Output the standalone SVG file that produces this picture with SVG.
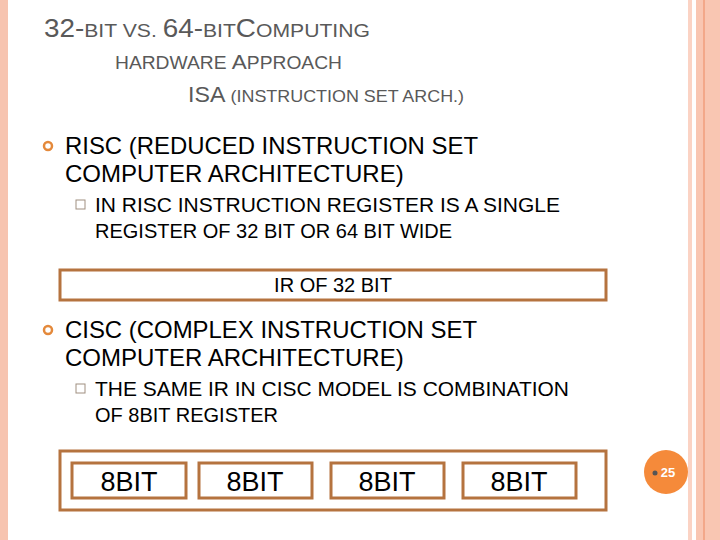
<svg xmlns="http://www.w3.org/2000/svg" width="720" height="540" viewBox="0 0 720 540">
<style>
.t{font-family:"Liberation Sans",Arial,sans-serif;fill:#595959}
.b{font-family:"Liberation Sans",Arial,sans-serif;fill:#000}
.box{fill:#fff;stroke:#b5733f;stroke-width:3}
</style>
<rect width="720" height="540" fill="#fff"/>
<rect x="0" y="0" width="8" height="540" fill="#f7c4b0"/>
<rect x="688" y="0" width="4" height="540" fill="#fbd3c4"/>
<rect x="696" y="0" width="24" height="540" fill="#f9c6b2"/>
<rect x="703" y="0" width="2" height="540" fill="#f3a88a"/>
<g id="title">
<text class="t" x="44" y="37" font-size="25" textLength="326" lengthAdjust="spacingAndGlyphs">32-<tspan font-size="19">BIT VS. </tspan>64-<tspan font-size="19">BIT</tspan>C<tspan font-size="19">OMPUTING</tspan></text>
<text class="t" x="115" y="69" font-size="18" textLength="227" lengthAdjust="spacingAndGlyphs">HARDWARE <tspan font-size="21">A</tspan>PPROACH</text>
<text class="t" x="188" y="102" font-size="22" textLength="276" lengthAdjust="spacingAndGlyphs">ISA <tspan font-size="17">(INSTRUCTION SET ARCH.)</tspan></text>
</g>
<g id="risc">
<circle cx="48" cy="146" r="4" fill="none" stroke="#e4893b" stroke-width="2.5"/>
<text class="b" x="65" y="154" font-size="24" textLength="413" lengthAdjust="spacingAndGlyphs">RISC (REDUCED INSTRUCTION SET</text>
<text class="b" x="65" y="182" font-size="24">COMPUTER ARCHITECTURE)</text>
<rect x="76" y="200" width="9" height="9" fill="none" stroke="#a08f80"/>
<text class="b" x="95" y="212" font-size="20" textLength="465" lengthAdjust="spacingAndGlyphs">IN RISC INSTRUCTION REGISTER IS A SINGLE</text>
<text class="b" x="95" y="238" font-size="20">REGISTER OF 32 BIT OR 64 BIT WIDE</text>
</g>
<g id="ir32">
<rect class="box" x="60" y="270" width="546" height="30"/>
<text class="b" x="333" y="292" font-size="20" text-anchor="middle" fill="#222">IR OF 32 BIT</text>
</g>
<g id="cisc">
<circle cx="48" cy="330" r="4" fill="none" stroke="#e4893b" stroke-width="2.5"/>
<text class="b" x="65" y="338" font-size="24" textLength="412" lengthAdjust="spacingAndGlyphs">CISC (COMPLEX INSTRUCTION SET</text>
<text class="b" x="65" y="366" font-size="24">COMPUTER  ARCHITECTURE)</text>
<rect x="76" y="384" width="9" height="9" fill="none" stroke="#a08f80"/>
<text class="b" x="95" y="396" font-size="20" textLength="474" lengthAdjust="spacingAndGlyphs">THE SAME IR IN CISC MODEL IS COMBINATION</text>
<text class="b" x="95" y="422" font-size="20">OF 8BIT REGISTER</text>
</g>
<g id="reg8">
<rect class="box" x="60" y="451" width="546" height="59"/>
<rect class="box" x="72" y="463" width="114" height="35"/>
<rect class="box" x="199" y="463" width="113" height="35"/>
<rect class="box" x="331" y="463" width="113" height="35"/>
<rect class="box" x="463" y="463" width="113" height="35"/>
<g class="b" font-size="27" text-anchor="middle" fill="#111">
<text x="129" y="491">8BIT</text>
<text x="255" y="491">8BIT</text>
<text x="387" y="491">8BIT</text>
<text x="519" y="491">8BIT</text>
</g>
</g>
<g id="page">
<circle cx="666" cy="472" r="22" fill="#f58a3a"/>
<circle cx="655" cy="473" r="2.5" fill="#555"/>
<text x="668" y="477" font-family="Liberation Sans,Arial,sans-serif" font-size="13" font-weight="bold" fill="#fff" text-anchor="middle">25</text>
</g>
</svg>
